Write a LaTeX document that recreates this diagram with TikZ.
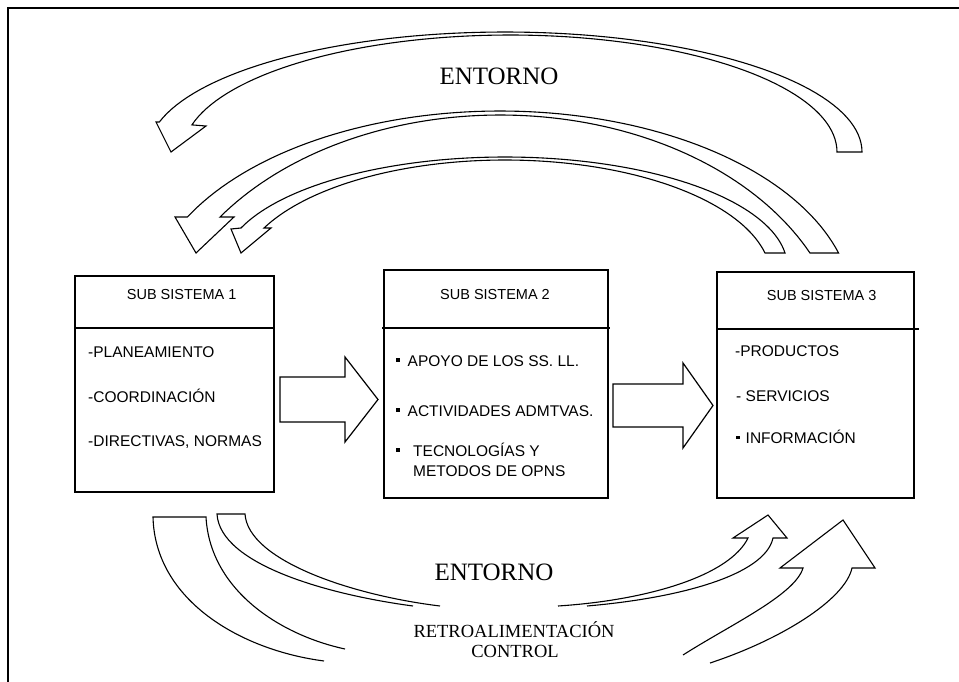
\documentclass[tikz,border=0pt]{standalone}
\usepackage{fontspec}
\setmainfont{Liberation Serif}
\newfontfamily\arialf{Liberation Sans}
\usetikzlibrary{fit}
\begin{document}
\begin{tikzpicture}[x=1pt,y=-1pt,
  frameline/.style={line width=1.8pt},
  boxst/.style={draw, line width=1.3pt, inner sep=0pt},
  divline/.style={line width=1.3pt},
  blockarrow/.style={draw, line width=1.2pt, fill=white, line join=miter},
  curvearrow/.style={draw, line width=1.1pt, fill=white, line join=miter},
  openarrow/.style={draw, line width=1.1pt, line join=miter},
  hdr/.style={font=\arialf\fontsize{14.5}{16}\selectfont, inner sep=0pt, anchor=base},
  body/.style={font=\arialf\fontsize{15.5}{17}\selectfont, inner sep=0pt, anchor=base west},
  bigtxt/.style={font=\fontsize{25}{28}\selectfont, inner sep=0pt, anchor=base},
  smalltxt/.style={font=\fontsize{18.5}{20}\selectfont, inner sep=0pt, anchor=base}]
\useasboundingbox (0,0) rectangle (959,682);
% frame
\draw[frameline] (8.3,682) -- (8.3,8.3) -- (959,8.3);

% top curved arrows
\path[curvearrow] plot[domain=0:165.5, samples=80] ({505+357*cos(\x)},{152-120*sin(\x)})
  -- (156,122) -- (171,152) -- (206,126)
  -- plot[domain=166.6:0, samples=80] ({510+327*cos(\x)},{152-117*sin(\x)}) -- cycle;
\path[curvearrow] plot[domain=16.43:152.31, samples=80] ({500+353*cos(\x)},{309-198*sin(\x)})
  -- (175,217) -- (196,253) -- (234,217)
  -- plot[domain=144.59:25.53, samples=80] ({500+343.5*cos(\x)},{357.5-242.5*sin(\x)}) -- cycle;
\path[curvearrow] plot[domain=7.27:159.27, samples=80] ({505+282.3*cos(\x)},{266.9-109.9*sin(\x)})
  -- (231,229) -- (241,253) -- (271,228)
  -- plot[domain=154.96:12.19, samples=80] ({505+266*cos(\x)},{277.9-117.9*sin(\x)}) -- cycle;

\node[bigtxt] (ent1) at (499,85) {ENTORNO};

% boxes
\node[boxst, fit={(75,276) (274,492)}] (s1) {};
\node[boxst, fit={(384,270) (608,498)}] (s2) {};
\node[boxst, fit={(717,272) (914,498)}] (s3) {};
\draw[divline] (s1.west |- 0,328) -- (s1.east |- 0,328);
\draw[divline] (382,328) -- (610,328);
\draw[divline] (s3.west |- 0,329) -- (919,329);

\node[hdr] (h1) at (181.7,299.3) {SUB SISTEMA 1};
\node[hdr] (h2) at (495,299.3) {SUB SISTEMA 2};
\node[hdr] (h3) at (821.7,300.7) {SUB SISTEMA 3};

\node[body] (a1) at (88,357) {-PLANEAMIENTO};
\node[body] (a2) at (88,402.5) {-COORDINACIÓN};
\node[body] (a3) at (88,446) {-DIRECTIVAS, NORMAS};

\node[body] (b1) at (396,366) {\rule[4.3pt]{3.5pt}{3.5pt}\hspace{8pt}APOYO DE LOS SS. LL.};
\node[body] (b2) at (396,416) {\rule[4.3pt]{3.5pt}{3.5pt}\hspace{8pt}ACTIVIDADES ADMTVAS.};
\node[body] (b3) at (396,456) {\rule[4.3pt]{3.5pt}{3.5pt}\hspace{13.5pt}TECNOLOGÍAS Y};
\node[body] (b4) at (413,476) {METODOS DE OPNS};

\node[body] (c1) at (735,356.7) {-PRODUCTOS};
\node[body] (c2) at (736,401.7) {- SERVICIOS};
\node[body] (c3) at (736,443.3) {\rule[4.3pt]{3.5pt}{3.5pt}\hspace{6pt}INFORMACIÓN};

% horizontal block arrows
\path[blockarrow] (280,377) -- (345,377) -- (345,357) -- (378,399.5) -- (345,442) -- (345,422) -- (280,422) -- cycle;
\path[blockarrow] (613,384) -- (683,384) -- (683,363) -- (713,405.5) -- (683,448) -- (683,427) -- (613,427) -- cycle;

% bottom arrows
\draw[openarrow] (324,661) .. controls (240,650) and (155,600) .. (153,517) -- (206,517)
  .. controls (210,590) and (280,635) .. (345,649);
\draw[openarrow] (413,606) .. controls (330,595) and (220,565) .. (217,514) -- (245,514)
  .. controls (248,560) and (350,595) .. (440,606);
\draw[openarrow] (558,606) .. controls (650,600) and (730,575) .. (748,538) -- (733,538) -- (768,515)
  -- (787,538) -- (773,538) .. controls (765,575) and (680,598) .. (587,606);
\draw[openarrow] (683,655) .. controls (730,625) and (795,595) .. (803,568) -- (780,568) -- (843,520)
  -- (875,568) -- (852,568) .. controls (845,600) and (780,640) .. (710,663);

\node[bigtxt] (ent2) at (494,580) {ENTORNO};
\node[smalltxt] (retro) at (514,637) {RETROALIMENTACIÓN};
\node[smalltxt] (ctrl) at (515,657) {CONTROL};
\end{tikzpicture}
\end{document}
